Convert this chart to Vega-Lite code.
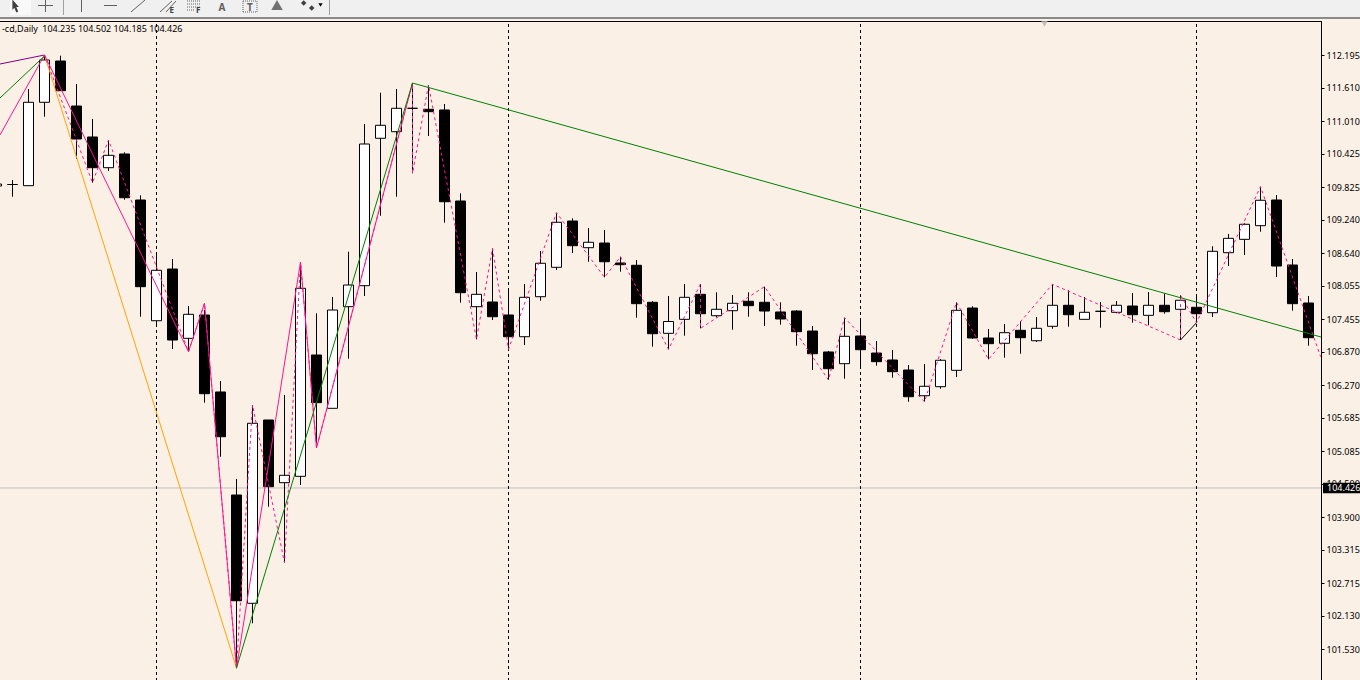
{
"$schema":"https://vega.github.io/schema/vega-lite/v6.json",
"autosize":{"type":"none"},
"padding":{"left":0,"top":0,"right":39,"bottom":0},
"width":1321,"height":680,
"background":"#FAF0E6",
"config":{"view":{"stroke":null},"font":"Noto Sans"},
"datasets":{
"candles":[
{"i":-1,"o":109.846,"h":109.882,"l":109.846,"c":109.882},
{"i":0,"o":109.873,"h":109.954,"l":109.654,"c":109.873},
{"i":1,"o":109.852,"h":111.587,"l":109.846,"c":111.349},
{"i":2,"o":111.349,"h":112.18,"l":111.09,"c":112.108},
{"i":3,"o":112.09,"h":112.185,"l":111.552,"c":111.557},
{"i":4,"o":111.282,"h":111.677,"l":110.331,"c":110.69},
{"i":5,"o":110.726,"h":111.049,"l":109.906,"c":110.175},
{"i":6,"o":110.175,"h":110.672,"l":110.115,"c":110.397},
{"i":7,"o":110.421,"h":110.451,"l":109.6,"c":109.636},
{"i":8,"o":109.595,"h":109.679,"l":107.5,"c":108.039},
{"i":9,"o":107.428,"h":108.608,"l":107.351,"c":108.333},
{"i":10,"o":108.356,"h":108.536,"l":106.92,"c":107.082},
{"i":11,"o":107.112,"h":107.692,"l":106.872,"c":107.543},
{"i":12,"o":107.531,"h":107.62,"l":105.957,"c":106.118},
{"i":13,"o":106.149,"h":106.346,"l":104.987,"c":105.346},
{"i":14,"o":104.3,"h":104.587,"l":101.189,"c":102.402},
{"i":15,"o":102.356,"h":105.915,"l":101.997,"c":105.587},
{"i":16,"o":105.646,"h":105.646,"l":104.089,"c":104.449},
{"i":17,"o":104.521,"h":106.095,"l":103.084,"c":104.653},
{"i":18,"o":104.635,"h":108.482,"l":104.479,"c":108.01},
{"i":19,"o":106.813,"h":107.561,"l":105.228,"c":105.957},
{"i":20,"o":105.856,"h":107.854,"l":105.856,"c":107.62},
{"i":21,"o":107.68,"h":108.667,"l":106.746,"c":108.069},
{"i":22,"o":108.057,"h":110.959,"l":107.872,"c":110.6},
{"i":23,"o":110.703,"h":111.521,"l":109.313,"c":110.936},
{"i":24,"o":110.821,"h":111.587,"l":109.654,"c":111.241},
{"i":25,"o":111.241,"h":111.695,"l":110.074,"c":111.241},
{"i":26,"o":111.223,"h":111.659,"l":110.744,"c":111.18},
{"i":27,"o":111.211,"h":111.318,"l":109.188,"c":109.564},
{"i":28,"o":109.577,"h":109.715,"l":107.752,"c":107.931},
{"i":29,"o":107.68,"h":108.303,"l":107.094,"c":107.902},
{"i":30,"o":107.764,"h":108.728,"l":107.441,"c":107.5},
{"i":31,"o":107.531,"h":107.961,"l":106.915,"c":107.141},
{"i":32,"o":107.141,"h":108.087,"l":106.992,"c":107.848},
{"i":33,"o":107.859,"h":108.679,"l":107.787,"c":108.459},
{"i":34,"o":108.387,"h":109.367,"l":108.339,"c":109.195},
{"i":35,"o":109.218,"h":109.266,"l":108.644,"c":108.775},
{"i":36,"o":108.739,"h":109.092,"l":108.487,"c":108.836},
{"i":37,"o":108.823,"h":109.057,"l":108.207,"c":108.487},
{"i":38,"o":108.464,"h":108.577,"l":108.308,"c":108.434},
{"i":39,"o":108.423,"h":108.518,"l":107.482,"c":107.734},
{"i":40,"o":107.759,"h":107.777,"l":106.962,"c":107.195},
{"i":41,"o":107.202,"h":107.872,"l":106.915,"c":107.414},
{"i":42,"o":107.453,"h":108.087,"l":107.159,"c":107.848},
{"i":43,"o":107.902,"h":108.087,"l":107.292,"c":107.554},
{"i":44,"o":107.518,"h":107.938,"l":107.487,"c":107.633},
{"i":45,"o":107.608,"h":107.89,"l":107.267,"c":107.741},
{"i":46,"o":107.777,"h":107.938,"l":107.5,"c":107.698},
{"i":47,"o":107.759,"h":108.039,"l":107.333,"c":107.602},
{"i":48,"o":107.585,"h":107.759,"l":107.357,"c":107.459},
{"i":49,"o":107.602,"h":107.615,"l":106.98,"c":107.231},
{"i":50,"o":107.243,"h":107.333,"l":106.544,"c":106.836},
{"i":51,"o":106.867,"h":106.885,"l":106.364,"c":106.567},
{"i":52,"o":106.657,"h":107.482,"l":106.387,"c":107.148},
{"i":53,"o":107.154,"h":107.423,"l":106.585,"c":106.908},
{"i":54,"o":106.848,"h":107.064,"l":106.621,"c":106.693},
{"i":55,"o":106.723,"h":106.903,"l":106.405,"c":106.513},
{"i":56,"o":106.543,"h":106.633,"l":105.974,"c":106.064},
{"i":57,"o":106.082,"h":106.651,"l":105.974,"c":106.251},
{"i":58,"o":106.244,"h":106.741,"l":106.208,"c":106.718},
{"i":59,"o":106.538,"h":107.759,"l":106.418,"c":107.615},
{"i":60,"o":107.656,"h":107.687,"l":107.105,"c":107.118},
{"i":61,"o":107.118,"h":107.279,"l":106.736,"c":107.016},
{"i":62,"o":107.023,"h":107.369,"l":106.764,"c":107.213},
{"i":63,"o":107.256,"h":107.423,"l":106.836,"c":107.123},
{"i":64,"o":107.069,"h":107.495,"l":107.046,"c":107.292},
{"i":65,"o":107.328,"h":108.082,"l":107.285,"c":107.705},
{"i":66,"o":107.705,"h":107.974,"l":107.321,"c":107.536},
{"i":67,"o":107.453,"h":107.854,"l":107.453,"c":107.579},
{"i":68,"o":107.597,"h":107.764,"l":107.303,"c":107.597},
{"i":69,"o":107.579,"h":107.782,"l":107.561,"c":107.705},
{"i":70,"o":107.692,"h":107.926,"l":107.393,"c":107.536},
{"i":71,"o":107.525,"h":107.944,"l":107.346,"c":107.705},
{"i":72,"o":107.705,"h":107.92,"l":107.554,"c":107.59},
{"i":73,"o":107.633,"h":107.884,"l":107.082,"c":107.795},
{"i":74,"o":107.669,"h":107.854,"l":107.393,"c":107.554},
{"i":75,"o":107.572,"h":108.764,"l":107.495,"c":108.674},
{"i":76,"o":108.649,"h":108.985,"l":108.41,"c":108.907},
{"i":77,"o":108.889,"h":109.177,"l":108.608,"c":109.159},
{"i":78,"o":109.134,"h":109.834,"l":109.026,"c":109.59},
{"i":79,"o":109.595,"h":109.685,"l":108.213,"c":108.41},
{"i":80,"o":108.428,"h":108.536,"l":107.608,"c":107.734},
{"i":81,"o":107.746,"h":107.872,"l":106.98,"c":107.123}
],
"minor":[
{"s":1,"i":2,"p":112.198},{"s":2,"i":5,"p":109.906},{"s":3,"i":6,"p":110.672},{"s":4,"i":11,"p":106.872},{"s":5,"i":12,"p":107.741},{"s":6,"i":14,"p":101.194},{"s":7,"i":15,"p":105.915},{"s":8,"i":17,"p":103.084},{"s":9,"i":18,"p":108.482},{"s":10,"i":19,"p":105.143},{"s":11,"i":25,"p":111.695},{"s":12,"i":25,"p":110.074},{"s":13,"i":26,"p":111.659},{"s":14,"i":29,"p":107.094},{"s":15,"i":30,"p":108.728},{"s":16,"i":31,"p":106.915},{"s":17,"i":34,"p":109.367},{"s":18,"i":37,"p":108.207},{"s":19,"i":38,"p":108.577},{"s":20,"i":41,"p":106.915},{"s":21,"i":43,"p":108.087},{"s":22,"i":43,"p":107.292},{"s":23,"i":47,"p":108.039},{"s":24,"i":51,"p":106.364},{"s":25,"i":52,"p":107.482},{"s":26,"i":57,"p":105.974},{"s":27,"i":59,"p":107.759},{"s":28,"i":61,"p":106.736},{"s":29,"i":65,"p":108.082},{"s":30,"i":73,"p":107.082},{"s":31,"i":73,"p":107.884},{"s":32,"i":74,"p":107.393},{"s":33,"i":78,"p":109.834},{"s":34,"i":81.76,"p":106.782}
],
"major":[
{"s":1,"i":-0.781,"p":110.762},{"s":2,"i":2,"p":112.198},{"s":3,"i":11,"p":106.872},{"s":4,"i":12,"p":107.741},{"s":5,"i":14,"p":101.194},{"s":6,"i":18,"p":108.482},{"s":7,"i":19,"p":105.143},{"s":8,"i":25,"p":111.695}
],
"orange":[{"i":2,"p":112.198},{"i":14,"p":101.194}],
"greenA":[{"i":-0.781,"p":111.426},{"i":2,"p":112.18}],
"greenB":[{"i":14,"p":101.194},{"i":25,"p":111.695},{"i":81.78,"p":107.136}],
"purple":[{"i":-0.781,"p":112.036},{"i":2,"p":112.198}],
"blackseg":[{"i":73,"p":107.082},{"i":74,"p":107.393}],
"periods":[{"i":9},{"i":31},{"i":53},{"i":74}],
"bid":[{"p":104.426,"t":"104.426","tagLo":104.33,"tagHi":104.52,"x0":81.906,"x1":84.22,"xt":82.16,"a":-0.79,"b":81.78}],
"header":[{"i":-0.66,"p":112.664,"t":"-cd,Daily"},{"i":1.86,"p":112.664,"t":"104.235 104.502 104.185 104.426"}],
"barface":[{"a":-0.79,"b":84.3,"lo":112.88,"hi":113.2}],
"barbtn":[{"a":-0.156,"b":1.156,"lo":112.916,"hi":113.2}],
"barline":[{"a":-0.79,"b":84.3,"lo":112.845,"hi":112.88}],
"barstrip":[{"a":-0.79,"b":84.3,"lo":112.808,"hi":112.845}],
"topline":[{"a":-0.79,"b":81.78,"p":112.799}],
"icons":[
{"a":1.594,"b":2.531,"lo":113.086,"hi":113.086},
{"a":2.0625,"b":2.0625,"lo":112.97,"hi":113.19},
{"a":4.3125,"b":4.3125,"lo":112.97,"hi":113.19},
{"a":5.719,"b":6.531,"lo":113.086,"hi":113.086},
{"a":7.406,"b":8.281,"lo":112.97,"hi":113.185},
{"a":9.219,"b":9.969,"lo":112.97,"hi":113.167},
{"a":9.594,"b":10.219,"lo":112.97,"hi":113.167}
],
"seps":[
{"a":3.1875,"b":3.1875,"lo":112.916,"hi":113.19},
{"a":19.8125,"b":19.8125,"lo":112.916,"hi":113.19}
],
"dotted":[
{"a":10.906,"b":11.719,"lo":113.167,"hi":113.167},
{"a":10.906,"b":11.719,"lo":113.113,"hi":113.113},
{"a":10.906,"b":11.719,"lo":113.059,"hi":113.059},
{"a":10.906,"b":11.4,"lo":113.006,"hi":113.006},
{"a":14.406,"b":15.281,"lo":113.167,"hi":113.167},
{"a":14.406,"b":15.281,"lo":112.97,"hi":112.97},
{"a":14.406,"b":14.406,"lo":112.97,"hi":113.167},
{"a":15.281,"b":15.281,"lo":112.97,"hi":113.167}
],
"bigletters":[{"i":13.09,"p":113.04,"t":"A"},{"i":14.84,"p":113.04,"t":"T"}],
"smallletters":[{"i":9.95,"p":112.985,"t":"E"},{"i":11.6,"p":112.985,"t":"F"}],
"arrow":[{"i":0.156,"p":113.077}],
"bigtri":[{"i":16.531,"p":113.095}],
"droptri":[{"i":19.25,"p":113.095}],
"diamonds":[{"i":18.2,"p":113.131},{"i":18.7,"p":113.041}],
"marker":[{"i":64.5,"p":112.754}]
},
"encoding":{
"x":{"type":"quantitative","scale":{"domain":[-0.78125,81.78125],"nice":false,"zero":false,"padding":0},"axis":null},
"y":{"type":"quantitative","scale":{"domain":[100.979,113.185],"nice":false,"zero":false},"axis":{"orient":"right","title":null,"grid":false,"values":[112.195,111.61,111.01,110.425,109.825,109.24,108.64,108.055,107.455,106.87,106.27,105.685,105.085,104.5,103.9,103.315,102.715,102.13,101.53,100.945],"format":".3f","domainColor":"#000000","domainWidth":1,"tickColor":"#000000","tickSize":3,"labelPadding":2,"labelFont":"Noto Sans","labelFontSize":9,"labelColor":"#000000","labelBound":false,"labelOverlap":false,"labelFlush":false}}
},
"layer":[
{"data":{"name":"bid"},"mark":{"type":"rule","color":"#C0C0C0","strokeWidth":1},"encoding":{"x":{"field":"a"},"x2":{"field":"b"},"y":{"field":"p"}}},
{"data":{"name":"periods"},"mark":{"type":"rule","color":"#000000","strokeWidth":1,"strokeDash":[3,3]},"encoding":{"x":{"field":"i"},"y":{"value":0},"y2":{"value":680}}},
{"data":{"name":"candles"},"mark":{"type":"rule","color":"#000000","strokeWidth":1},"encoding":{"x":{"field":"i"},"y":{"field":"h"},"y2":{"field":"l"}}},
{"data":{"name":"candles"},"mark":{"type":"bar","size":10,"stroke":"#000000","strokeWidth":1},"encoding":{"x":{"field":"i"},"y":{"field":"o"},"y2":{"field":"c"},"fill":{"condition":{"test":"datum.c>datum.o","value":"#FFFFFF"},"value":"#000000"}}},
{"data":{"name":"orange"},"mark":{"type":"line","color":"#FFA500","strokeWidth":1},"encoding":{"x":{"field":"i"},"y":{"field":"p"}}},
{"data":{"name":"purple"},"mark":{"type":"line","color":"#800080","strokeWidth":1},"encoding":{"x":{"field":"i"},"y":{"field":"p"}}},
{"data":{"name":"major"},"mark":{"type":"line","color":"#FF1493","strokeWidth":1},"encoding":{"x":{"field":"i"},"y":{"field":"p"},"order":{"field":"s"}}},
{"data":{"name":"minor"},"mark":{"type":"line","color":"#FF1493","strokeWidth":1,"strokeDash":[3,3]},"encoding":{"x":{"field":"i"},"y":{"field":"p"},"order":{"field":"s"}}},
{"data":{"name":"greenA"},"mark":{"type":"line","color":"#008000","strokeWidth":1},"encoding":{"x":{"field":"i"},"y":{"field":"p"}}},
{"data":{"name":"greenB"},"mark":{"type":"line","color":"#008000","strokeWidth":1},"encoding":{"x":{"field":"i"},"y":{"field":"p"}}},
{"data":{"name":"blackseg"},"mark":{"type":"line","color":"#000000","strokeWidth":1},"encoding":{"x":{"field":"i"},"y":{"field":"p"}}},
{"data":{"name":"header"},"mark":{"type":"text","align":"left","baseline":"middle","font":"Noto Sans","fontSize":9,"color":"#000000"},"encoding":{"x":{"field":"i"},"y":{"field":"p"},"text":{"field":"t"}}},
{"data":{"name":"bid"},"mark":{"type":"rect","color":"#000000"},"encoding":{"x":{"field":"x0"},"x2":{"field":"x1"},"y":{"field":"tagLo"},"y2":{"field":"tagHi"}}},
{"data":{"name":"bid"},"mark":{"type":"text","align":"left","baseline":"middle","font":"Noto Sans","fontSize":9,"color":"#FFFFFF"},"encoding":{"x":{"field":"xt"},"y":{"field":"p"},"text":{"field":"t"}}},
{"data":{"name":"barstrip"},"mark":{"type":"rect","color":"#FAF0E6"},"encoding":{"x":{"field":"a"},"x2":{"field":"b"},"y":{"field":"lo"},"y2":{"field":"hi"}}},
{"data":{"name":"barface"},"mark":{"type":"rect","color":"#F0F0F0"},"encoding":{"x":{"field":"a"},"x2":{"field":"b"},"y":{"field":"lo"},"y2":{"field":"hi"}}},
{"data":{"name":"barbtn"},"mark":{"type":"rect","color":"#F9F9F9"},"encoding":{"x":{"field":"a"},"x2":{"field":"b"},"y":{"field":"lo"},"y2":{"field":"hi"}}},
{"data":{"name":"barline"},"mark":{"type":"rect","color":"#8A8A8A"},"encoding":{"x":{"field":"a"},"x2":{"field":"b"},"y":{"field":"lo"},"y2":{"field":"hi"}}},
{"data":{"name":"topline"},"mark":{"type":"rule","color":"#000000","strokeWidth":1},"encoding":{"x":{"field":"a"},"x2":{"field":"b"},"y":{"field":"p"}}},
{"data":{"name":"seps"},"mark":{"type":"rule","color":"#A0A0A0","strokeWidth":1},"encoding":{"x":{"field":"a"},"x2":{"field":"b"},"y":{"field":"lo"},"y2":{"field":"hi"}}},
{"data":{"name":"icons"},"mark":{"type":"rule","color":"#606060","strokeWidth":1},"encoding":{"x":{"field":"a"},"x2":{"field":"b"},"y":{"field":"lo"},"y2":{"field":"hi"}}},
{"data":{"name":"dotted"},"mark":{"type":"rule","color":"#606060","strokeWidth":1,"strokeDash":[1,1]},"encoding":{"x":{"field":"a"},"x2":{"field":"b"},"y":{"field":"lo"},"y2":{"field":"hi"}}},
{"data":{"name":"bigletters"},"mark":{"type":"text","align":"center","baseline":"middle","font":"Noto Sans","fontSize":10,"fontWeight":"bold","color":"#606060"},"encoding":{"x":{"field":"i"},"y":{"field":"p"},"text":{"field":"t"}}},
{"data":{"name":"smallletters"},"mark":{"type":"text","align":"center","baseline":"middle","font":"Noto Sans","fontSize":8,"fontWeight":"bold","color":"#404040"},"encoding":{"x":{"field":"i"},"y":{"field":"p"},"text":{"field":"t"}}},
{"data":{"name":"arrow"},"mark":{"type":"point","filled":true,"color":"#404040","opacity":1,"size":170,"shape":"M-0.4,-1 L-0.4,0.6 L-0.1,0.25 L0.2,1 L0.5,0.85 L0.2,0.15 L0.6,0.15 Z"},"encoding":{"x":{"field":"i"},"y":{"field":"p"}}},
{"data":{"name":"bigtri"},"mark":{"type":"point","filled":true,"color":"#707070","opacity":1,"size":130,"shape":"triangle-up"},"encoding":{"x":{"field":"i"},"y":{"field":"p"}}},
{"data":{"name":"droptri"},"mark":{"type":"point","filled":true,"color":"#000000","opacity":1,"size":18,"shape":"triangle-down"},"encoding":{"x":{"field":"i"},"y":{"field":"p"}}},
{"data":{"name":"diamonds"},"mark":{"type":"point","filled":true,"color":"#404040","opacity":1,"size":30,"shape":"diamond"},"encoding":{"x":{"field":"i"},"y":{"field":"p"}}},
{"data":{"name":"marker"},"mark":{"type":"point","filled":true,"color":"#C0C0C0","opacity":1,"size":40,"shape":"triangle-down"},"encoding":{"x":{"field":"i"},"y":{"field":"p"}}}
]
}
